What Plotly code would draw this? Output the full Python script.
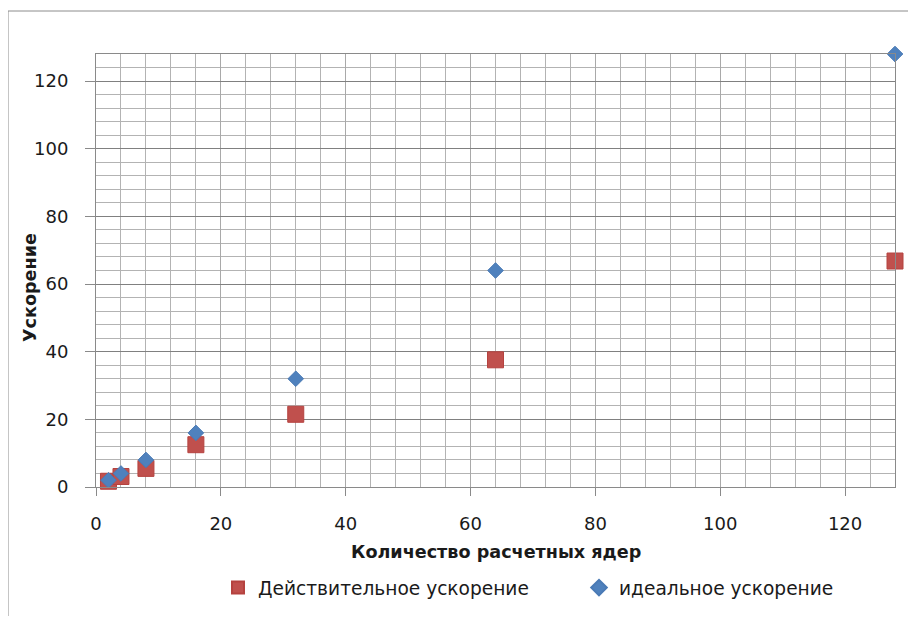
import plotly.graph_objects as go

cores = [2, 4, 8, 16, 32, 64, 128]
actual_speedup = [1.7, 3.1, 5.5, 12.5, 21.5, 37.6, 66.8]
ideal_speedup = [2, 4, 8, 16, 32, 64, 128]
x_ticks = [0, 20, 40, 60, 80, 100, 120]
y_ticks = [0, 20, 40, 60, 80, 100, 120]

FONT = "DejaVu Sans"
TXT = "#1a1a1a"

# page is rendered with an 8px body margin, so the figure is offset by 8px
W, H = 900, 608
L, T = 88, 46
PW, PH = 799, 433

fig = go.Figure()
fig.add_trace(go.Scatter(
    x=cores, y=actual_speedup, mode="markers",
    name="Действительное ускорение",
    marker=dict(symbol="square", size=16, color="#C0504D",
                line=dict(color="#B5423F", width=1)),
    cliponaxis=False,
))
fig.add_trace(go.Scatter(
    x=cores, y=ideal_speedup, mode="markers",
    name="идеальное ускорение",
    marker=dict(symbol="diamond", size=12, color="#4F81BD",
                line=dict(color="#4A7AB5", width=1)),
    cliponaxis=False,
))

fig.update_layout(
    width=W, height=H,
    margin=dict(l=L, r=W - L - PW, t=T, b=H - T - PH, autoexpand=False),
    paper_bgcolor="white", plot_bgcolor="white",
    font=dict(family=FONT, size=18, color=TXT),
    showlegend=True,
    legend=dict(orientation="h", x=(218 - 96) / PW, xanchor="left",
                y=-101 / PH, yanchor="middle",
                font=dict(family=FONT, size=18.6, color=TXT),
                itemsizing="constant", entrywidth=316, tracegroupgap=0),
    xaxis=dict(range=[0, 128], tickvals=x_ticks, ticktext=[str(v) for v in x_ticks],
               showgrid=True, gridcolor="#a9a9a9", gridwidth=1,
               minor=dict(dtick=4, tick0=0, showgrid=True, gridcolor="#b3b3b3", gridwidth=1, ticks=""),
               showline=True, linecolor="#8a8a8a", linewidth=1, mirror=True,
               ticks="outside", ticklen=8, tickcolor="#8a8a8a",
               ticklabelstandoff=12, zeroline=False,
               tickfont=dict(family=FONT, size=18, color=TXT)),
    yaxis=dict(range=[0, 128], tickvals=y_ticks, ticktext=[str(v) for v in y_ticks],
               showgrid=True, gridcolor="#808080", gridwidth=1,
               minor=dict(dtick=4, tick0=0, showgrid=True, gridcolor="#b3b3b3", gridwidth=1, ticks=""),
               showline=True, linecolor="#8a8a8a", linewidth=1, mirror=True,
               ticks="outside", ticklen=10, tickcolor="#8a8a8a",
               ticklabelstandoff=13, zeroline=False,
               tickfont=dict(family=FONT, size=18, color=TXT)),
    annotations=[
        dict(text="<b>Количество расчетных ядер</b>", xref="paper", yref="paper",
             x=0.5, y=(487 - 552) / PH, xanchor="center", yanchor="middle",
             showarrow=False, font=dict(family=FONT, size=17.6, color=TXT)),
        dict(text="<b>Ускорение</b>", xref="paper", yref="paper",
             x=(30 - 96) / PW, y=(487 - 288) / PH, xanchor="center", yanchor="middle",
             textangle=-90, showarrow=False, font=dict(family=FONT, size=17.6, color=TXT)),
    ],
    shapes=[
        dict(type="rect", xref="paper", yref="paper",
             x0=(8 - 96) / PW, x1=(940 - 96) / PW,
             y0=(487 - 650) / PH, y1=(487 - 11) / PH,
             line=dict(color="#8c8c8c", width=1), fillcolor="rgba(0,0,0,0)", layer="below"),
    ],
)

fig.write_html("out.html")
